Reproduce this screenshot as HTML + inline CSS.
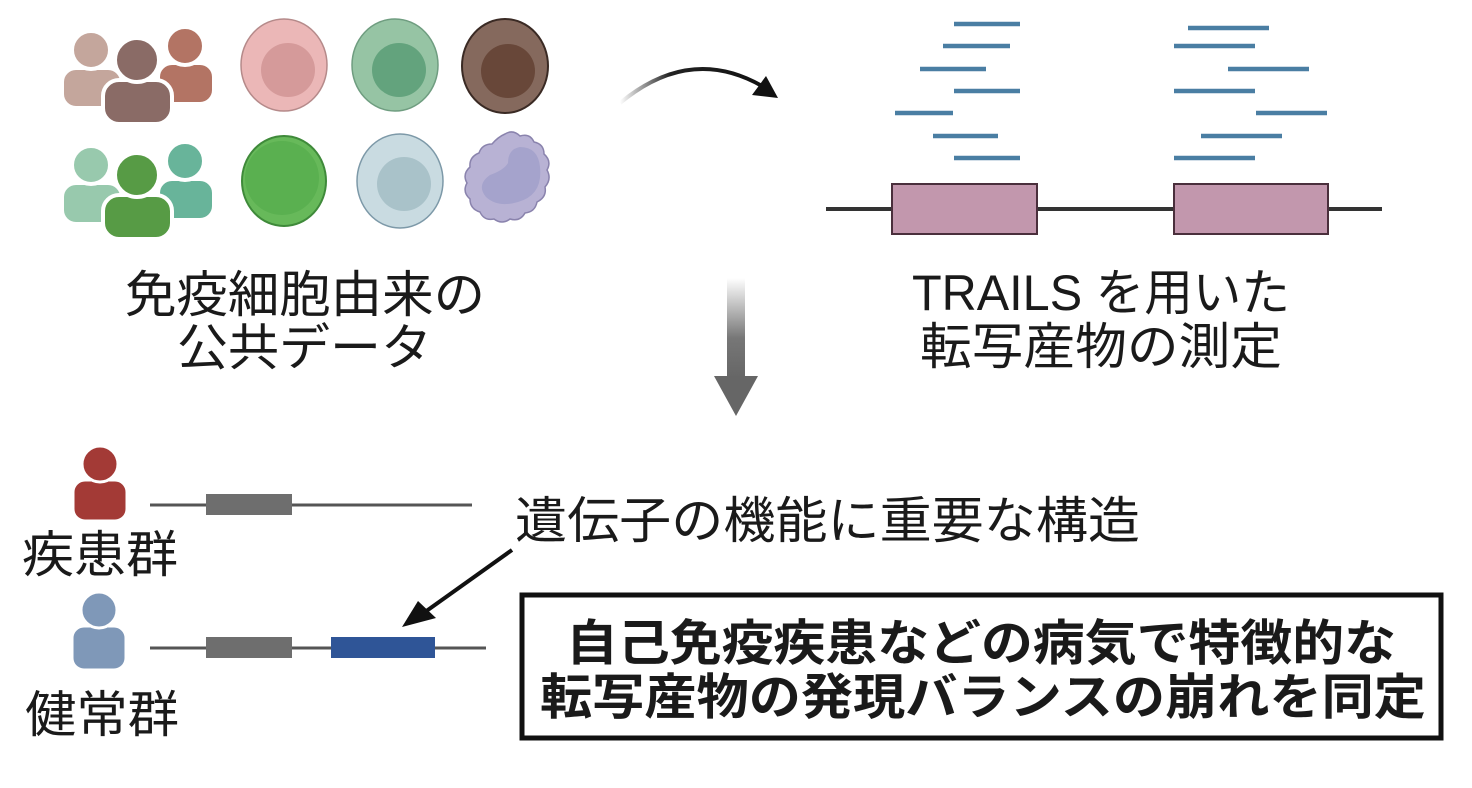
<!DOCTYPE html>
<html><head><meta charset="utf-8"><style>
html,body{margin:0;padding:0;background:#fff;}
svg{display:block;}
text{font-family:"Liberation Sans","Noto Sans CJK JP",sans-serif;fill:#1a1a1a;}
</style></head><body>
<svg width="1472" height="788" viewBox="0 0 1472 788" xmlns="http://www.w3.org/2000/svg">
<defs>
<linearGradient id="sh" x1="0" y1="0" x2="0" y2="1">
<stop offset="0" stop-color="#fff"/><stop offset="0.6" stop-color="#777"/><stop offset="1" stop-color="#666"/>
</linearGradient>
<linearGradient id="cv" x1="0" y1="0" x2="1" y2="0">
<stop offset="0" stop-color="#fff"/><stop offset="0.35" stop-color="#222"/><stop offset="1" stop-color="#111"/>
</linearGradient>
</defs>

<!-- people group 1 -->
<g stroke="#fff" stroke-width="4">
<rect x="62" y="68" width="60" height="40" rx="14" fill="#c4a69c"/>
<circle cx="91" cy="50" r="19" fill="#c4a69c"/>
<rect x="158" y="63" width="56" height="41" rx="14" fill="#b37464"/>
<circle cx="185" cy="46" r="19" fill="#b37464"/>
<rect x="103" y="80" width="69" height="44" rx="16" fill="#8a6b66"/>
<circle cx="137" cy="60" r="22" fill="#8a6b66"/>
</g>
<!-- people group 2 -->
<g stroke="#fff" stroke-width="4">
<rect x="62" y="183" width="60" height="41" rx="14" fill="#98c9ad"/>
<circle cx="91" cy="165" r="19" fill="#98c9ad"/>
<rect x="158" y="179" width="56" height="41" rx="14" fill="#68b49a"/>
<circle cx="185" cy="161" r="19" fill="#68b49a"/>
<rect x="103" y="195" width="69" height="44" rx="16" fill="#579b45"/>
<circle cx="137" cy="175" r="22" fill="#579b45"/>
</g>

<!-- cells -->
<ellipse cx="284" cy="65" rx="43" ry="46" fill="#ebb7b7" stroke="#b58a8a" stroke-width="1.5"/>
<circle cx="288" cy="70" r="27" fill="#d59a9a"/>
<ellipse cx="395" cy="65" rx="43" ry="46" fill="#96c4a4" stroke="#6f9d80" stroke-width="1.5"/>
<circle cx="399" cy="70" r="27" fill="#63a37d"/>
<ellipse cx="505" cy="66" rx="43" ry="47" fill="#85695d" stroke="#3a2a24" stroke-width="2"/>
<circle cx="508" cy="71" r="27" fill="#684739"/>
<ellipse cx="284" cy="181" rx="42" ry="45" fill="#67b95a" stroke="#3f8a3a" stroke-width="2"/>
<circle cx="282" cy="178" r="37" fill="#5ab050"/>
<ellipse cx="400" cy="181" rx="43" ry="47" fill="#c9dbe1" stroke="#7d99a8" stroke-width="1.5"/>
<circle cx="404" cy="184" r="27" fill="#a9c2c9"/>
<path d="M505 134 q8 -5 15 2 q10 -3 14 6 q10 2 10 12 q8 7 3 16 q5 9 -2 17 q2 10 -8 15 q-2 10 -12 11 q-5 9 -15 6 q-8 6 -16 0 q-10 2 -14 -7 q-10 -3 -10 -13 q-8 -7 -3 -16 q-5 -9 3 -16 q-1 -10 9 -14 q3 -9 13 -9 q6 -7 13 -10z" fill="#b8b2d4" stroke="#8a83ad" stroke-width="1.5"/>
<path d="M520 147 q18 0 20 20 q3 28 -22 35 q-20 6 -32 -5 q-10 -12 4 -22 q14 -5 18 -12 q0 -14 12 -16z" fill="#a5a3cc"/>

<!-- curved arrow -->
<path d="M620 103 Q690 45 762 86" fill="none" stroke="url(#cv)" stroke-width="4"/>
<polygon points="778,98 752,95 766,76" fill="#111"/>

<!-- reads -->
<g stroke="#4a7ea3" stroke-width="4.5">
<line x1="954" y1="24" x2="1020" y2="24"/>
<line x1="943" y1="46" x2="1010" y2="46"/>
<line x1="920" y1="69" x2="986" y2="69"/>
<line x1="954" y1="91" x2="1020" y2="91"/>
<line x1="895" y1="113" x2="953" y2="113"/>
<line x1="933" y1="136" x2="998" y2="136"/>
<line x1="954" y1="158" x2="1020" y2="158"/>
<line x1="1188" y1="28" x2="1269" y2="28"/>
<line x1="1174" y1="46" x2="1255" y2="46"/>
<line x1="1228" y1="69" x2="1309" y2="69"/>
<line x1="1174" y1="91" x2="1255" y2="91"/>
<line x1="1256" y1="113" x2="1327" y2="113"/>
<line x1="1201" y1="136" x2="1282" y2="136"/>
<line x1="1174" y1="158" x2="1255" y2="158"/>
</g>
<line x1="826" y1="209" x2="1382" y2="209" stroke="#333" stroke-width="4"/>
<rect x="892" y="184" width="145" height="50" fill="#c297ad" stroke="#4a2f3c" stroke-width="2"/>
<rect x="1174" y="184" width="154" height="50" fill="#c297ad" stroke="#4a2f3c" stroke-width="2"/>

<!-- top texts -->
<text x="125" y="312" font-size="50" textLength="360" lengthAdjust="spacingAndGlyphs">免疫細胞由来の</text>
<text x="177" y="365" font-size="50" textLength="255" lengthAdjust="spacingAndGlyphs">公共データ</text>
<text x="912" y="310" font-size="50" textLength="378" lengthAdjust="spacingAndGlyphs">TRAILS を用いた</text>
<text x="920" y="364" font-size="50" textLength="362" lengthAdjust="spacingAndGlyphs">転写産物の測定</text>

<!-- down arrow -->
<rect x="727" y="278" width="18" height="100" fill="url(#sh)"/>
<polygon points="714,376 758,376 736,416" fill="#666"/>

<!-- bottom people -->
<rect x="73" y="480" width="54" height="41" rx="12" fill="#a33a36" stroke="#fff" stroke-width="3"/>
<circle cx="100" cy="464" r="18" fill="#a33a36" stroke="#fff" stroke-width="3"/>
<rect x="72" y="626" width="54" height="44" rx="12" fill="#7f98b8" stroke="#fff" stroke-width="3"/>
<circle cx="99" cy="610" r="18" fill="#7f98b8" stroke="#fff" stroke-width="3"/>
<text x="22" y="572" font-size="50" textLength="156" lengthAdjust="spacingAndGlyphs">疾患群</text>
<text x="25" y="732" font-size="50" textLength="154" lengthAdjust="spacingAndGlyphs">健常群</text>

<!-- bottom genes -->
<line x1="150" y1="505" x2="472" y2="505" stroke="#555" stroke-width="3"/>
<rect x="206" y="494" width="86" height="21" fill="#6e6e6e"/>
<line x1="150" y1="648" x2="486" y2="648" stroke="#555" stroke-width="3"/>
<rect x="206" y="637" width="86" height="21" fill="#6e6e6e"/>
<rect x="331" y="637" width="104" height="21" fill="#2f5597"/>

<text x="515" y="538" font-size="50" textLength="625" lengthAdjust="spacingAndGlyphs">遺伝子の機能に重要な構造</text>
<line x1="512" y1="550" x2="425" y2="612" stroke="#111" stroke-width="4"/>
<polygon points="402,627 418,601 436,618" fill="#111"/>

<rect x="522" y="595" width="919" height="143" fill="#fff" stroke="#111" stroke-width="5"/>
<text x="566" y="660" font-size="49" font-weight="bold" textLength="830" lengthAdjust="spacingAndGlyphs" fill="#111">自己免疫疾患などの病気で特徴的な</text>
<text x="540" y="714" font-size="49" font-weight="bold" textLength="886" lengthAdjust="spacingAndGlyphs" fill="#111">転写産物の発現バランスの崩れを同定</text>
</svg>
</body></html>
